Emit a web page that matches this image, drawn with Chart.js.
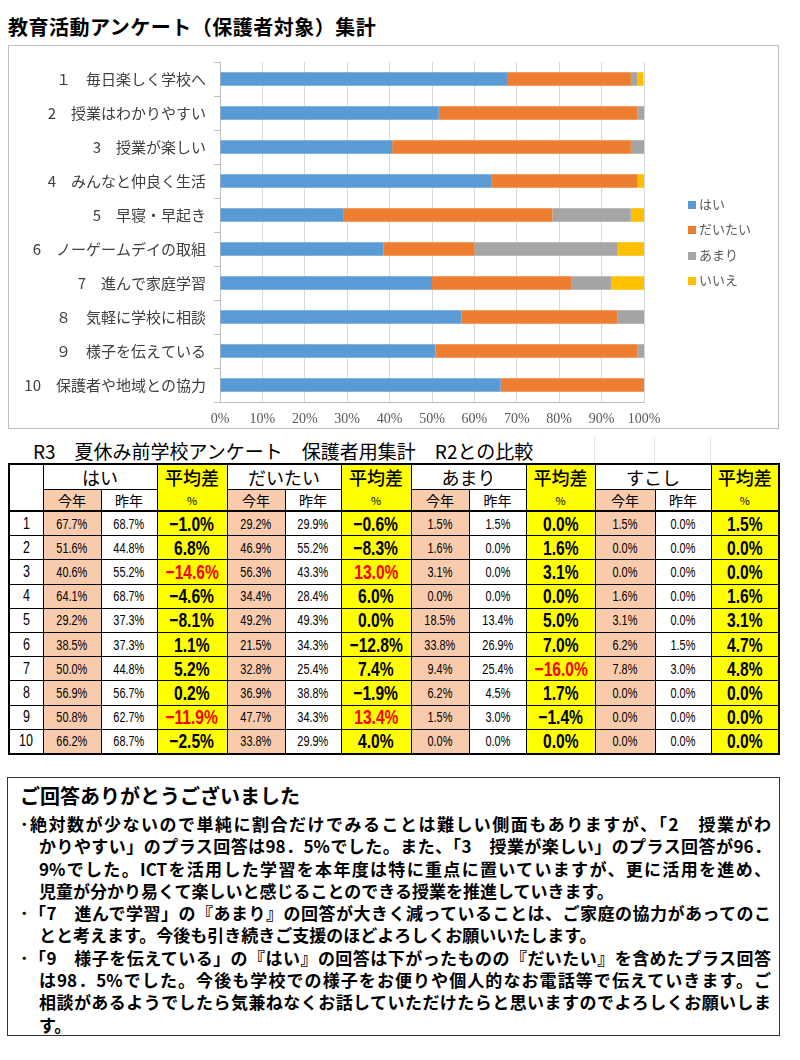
<!DOCTYPE html>
<html>
<head>
<meta charset="utf-8">
<script src="https://cdn.jsdelivr.net/npm/chart.js@4"></script>
<style>
body { margin: 0; width: 800px; height: 1060px; position: relative; background: #fff; font-family: "Noto Sans CJK JP", sans-serif; color: #000; overflow: hidden; }
#title { position: absolute; left: 8px; top: 12px; font-size: 20px; font-weight: bold; letter-spacing: 0.5px; line-height: 30px; white-space: nowrap; }
#chartBox { position: absolute; left: 8px; top: 45px; width: 771px; height: 384px; border: 1px solid #bfbfbf; box-sizing: border-box; }
#chart { position: absolute; left: 8px; top: 45px; }
#legend { position: absolute; left: 688px; top: 191px; font-size: 13px; color: #595959; }
#legend div { height: 25.3px; line-height: 25px; white-space: nowrap; }
#legend span { display: inline-block; width: 8px; height: 8px; margin-right: 3px; vertical-align: 0px; }
#tblTitle { position: absolute; left: 33px; top: 438px; font-size: 19px; line-height: 26px; white-space: nowrap; }
.gl { position: absolute; top: 437px; width: 1px; height: 26px; background: #e4e4e4; }
#tbl { position: absolute; left: 8px; top: 463px; width: 770px; border-collapse: collapse; table-layout: fixed; border: 2px solid #000; }
#tbl td { border: 1px solid #000; padding: 0; text-align: center; white-space: nowrap; overflow: hidden; }
#tbl .h1 td { height: 24px; font-size: 18px; line-height: 22px; }
#tbl .h2 td { height: 20px; font-size: 14px; line-height: 18px; border-bottom: 2px solid #000; }
#tbl .h1 td.diff { border-bottom: none; font-weight: 500; }
#tbl .h2 td.diff { border-top: none; font-size: 11px; }
#tbl .row td { height: 23.2px; font-family: "Liberation Sans", sans-serif; font-size: 14px; line-height: 20px; }
#tbl .row td.diff { font-size: 20px; font-weight: bold; }
#tbl .row td.no { font-size: 16px; }
#tbl .n { display: inline-block; transform: scaleX(0.78); }
#tbl .diff .n { transform: scaleX(0.78); }
.cur { background: #f8cbad; }
.diff { background: #ffff00; }
.red { color: #ff0000; }
#note { position: absolute; left: 7px; top: 777px; width: 773px; height: 259px; border: 1.5px solid #333; box-sizing: border-box; font-weight: bold; }
#note h2 { position: absolute; left: 12px; top: 4px; margin: 0; font-size: 20px; line-height: 28px; white-space: nowrap; }
#note .lines { position: absolute; left: 12px; top: 35px; width: 751px; font-size: 17px; line-height: 22.3px; }
#note .ln { white-space: nowrap; }
#note .ind { padding-left: 19px; }
#note .j { text-align: justify; text-align-last: justify; white-space: normal; }
</style>
</head>
<body>
<div id="title">教育活動アンケート（保護者対象）集計</div>
<div id="chartBox"></div>
<canvas id="chart" width="770" height="383"></canvas>
<div id="legend"></div>

<div class="gl" style="left:594px"></div>
<div class="gl" style="left:654px"></div>
<div class="gl" style="left:710px"></div>
<div id="tblTitle">R3　夏休み前学校アンケート　保護者用集計　R2との比較</div>
<table id="tbl"></table>

<div id="note">
  <h2>ご回答ありがとうございました</h2>
  <div class="lines">
    <div class="ln j">･絶対数が少ないので単純に割合だけでみることは難しい側面もありますが、「2　授業がわ</div>
    <div class="ln j ind">かりやすい」のプラス回答は98．5%でした。また、「3　授業が楽しい」のプラス回答が96．</div>
    <div class="ln j ind">9%でした。ICTを活用した学習を本年度は特に重点に置いていますが、更に活用を進め、</div>
    <div class="ln ind">児童が分かり易くて楽しいと感じることのできる授業を推進していきます。</div>
    <div class="ln j">･「7　進んで学習」の『あまり』の回答が大きく減っていることは、ご家庭の協力があってのこ</div>
    <div class="ln ind">とと考えます。今後も引き続きご支援のほどよろしくお願いいたします。</div>
    <div class="ln j">･「9　様子を伝えている」の『はい』の回答は下がったものの『だいたい』を含めたプラス回答</div>
    <div class="ln j ind">は98．5%でした。今後も学校での様子をお便りや個人的なお電話等で伝えていきます。ご</div>
    <div class="ln j ind">相談があるようでしたら気兼ねなくお話していただけたらと思いますのでよろしくお願いしま</div>
    <div class="ln ind">す。</div>
  </div>
</div>

<script>
// survey items (chart rows, top to bottom)
const items = [
    '１　毎日楽しく学校へ',
    '2　授業はわかりやすい',
    '3　授業が楽しい',
    '4　みんなと仲良く生活',
    '5　早寝・早起き',
    '6　ノーゲームデイの取組',
    '7　進んで家庭学習',
    '８　気軽に学校に相談',
    '９　様子を伝えている',
    '10　保護者や地域との協力'
];
const seriesNames = ['はい', 'だいたい', 'あまり', 'いいえ'];
const colors = ['#5b9bd5', '#ed7d31', '#a5a5a5', '#ffc000'];
const xTicks = [0, 10, 20, 30, 40, 50, 60, 70, 80, 90, 100];

// this year / last year (%), per item
const yesThis = [67.7, 51.6, 40.6, 64.1, 29.2, 38.5, 50.0, 56.9, 50.8, 66.2];
const yesLast = [68.7, 44.8, 55.2, 68.7, 37.3, 37.3, 44.8, 56.7, 62.7, 68.7];
const yesDiff = [-1.0, 6.8, -14.6, -4.6, -8.1, 1.1, 5.2, 0.2, -11.9, -2.5];
const mostlyThis = [29.2, 46.9, 56.3, 34.4, 49.2, 21.5, 32.8, 36.9, 47.7, 33.8];
const mostlyLast = [29.9, 55.2, 43.3, 28.4, 49.3, 34.3, 25.4, 38.8, 34.3, 29.9];
const mostlyDiff = [-0.6, -8.3, 13.0, 6.0, 0.0, -12.8, 7.4, -1.9, 13.4, 4.0];
const rarelyThis = [1.5, 1.6, 3.1, 0.0, 18.5, 33.8, 9.4, 6.2, 1.5, 0.0];
const rarelyLast = [1.5, 0.0, 0.0, 0.0, 13.4, 26.9, 25.4, 4.5, 3.0, 0.0];
const rarelyDiff = [0.0, 1.6, 3.1, 0.0, 5.0, 7.0, -16.0, 1.7, -1.4, 0.0];
const littleThis = [1.5, 0.0, 0.0, 1.6, 3.1, 6.2, 7.8, 0.0, 0.0, 0.0];
const littleLast = [0.0, 0.0, 0.0, 0.0, 0.0, 1.5, 3.0, 0.0, 0.0, 0.0];
const littleDiff = [1.5, 0.0, 0.0, 1.6, 3.1, 4.7, 4.8, 0.0, 0.0, 0.0];

// table groups and the diff cells printed in red ([row, group])
const groupNames = ['はい', 'だいたい', 'あまり', 'すこし'];
const redCells = [[2, 0], [8, 0], [2, 1], [8, 1], [6, 2]];

const groups = [
    [yesThis, yesLast, yesDiff],
    [mostlyThis, mostlyLast, mostlyDiff],
    [rarelyThis, rarelyLast, rarelyDiff],
    [littleThis, littleLast, littleDiff]
];
const chartSeries = [yesThis, mostlyThis, rarelyThis, littleThis];

function pct(v) {
    return '<span class="n">' + (v < 0 ? '−' : '') + Math.abs(v).toFixed(1) + '%</span>';
}

new Chart(document.getElementById('chart'), {
    type: 'bar',
    data: {
        labels: items,
        datasets: seriesNames.map((name, i) => ({
            label: name,
            data: chartSeries[i],
            backgroundColor: colors[i],
            barPercentage: 0.4,
            categoryPercentage: 1
        }))
    },
    options: {
        indexAxis: 'y',
        responsive: false,
        animation: false,
        layout: { padding: { top: 17, right: 134, left: 0, bottom: 0 } },
        plugins: { legend: { display: false }, tooltip: { enabled: false } },
        scales: {
            x: {
                stacked: true,
                min: 0,
                max: 100,
                afterBuildTicks: s => { s.ticks = xTicks.map(v => ({ value: v })); },
                afterFit: s => { s.height = 26; },
                ticks: {
                    callback: v => v + '%',
                    font: { family: 'Liberation Serif', size: 14 },
                    color: '#595959',
                    padding: 9
                },
                grid: { color: '#d9d9d9', drawTicks: false },
                border: { color: '#bfbfbf' }
            },
            y: {
                stacked: true,
                afterFit: s => { s.width = 212; },
                ticks: {
                    font: { family: 'Noto Sans CJK JP', size: 15 },
                    color: '#404040',
                    padding: 8
                },
                grid: { offset: true, drawOnChartArea: false, tickLength: 6, color: '#bfbfbf' },
                border: { color: '#bfbfbf' }
            }
        }
    }
});

// legend
const legend = document.getElementById('legend');
seriesNames.forEach((name, i) => {
    const d = document.createElement('div');
    d.innerHTML = '<span style="background:' + colors[i] + '"></span>' + name;
    legend.appendChild(d);
});

// table
const tbl = document.getElementById('tbl');
let html = '<colgroup>';
[34, 58, 56, 70, 58, 56, 70, 58, 57, 69, 60, 56, 68].forEach(w => { html += '<col style="width:' + w + 'px">'; });
html += '</colgroup>';
html += '<tr class="h1"><td rowspan="2" style="border-bottom:2px solid #000"></td>';
groupNames.forEach(g => { html += '<td colspan="2">' + g + '</td><td class="diff">平均差</td>'; });
html += '</tr><tr class="h2">';
groupNames.forEach(() => { html += '<td class="cur">今年</td><td>昨年</td><td class="diff">%</td>'; });
html += '</tr>';
items.forEach((_, r) => {
    html += '<tr class="row"><td class="no"><span class="n">' + (r + 1) + '</span></td>';
    groups.forEach((g, gi) => {
        const red = redCells.some(c => c[0] === r && c[1] === gi);
        html += '<td class="cur">' + pct(g[0][r]) + '</td><td>' + pct(g[1][r]) + '</td>';
        html += '<td class="diff' + (red ? ' red' : '') + '">' + pct(g[2][r]) + '</td>';
    });
    html += '</tr>';
});
tbl.innerHTML = html;
</script>
</body>
</html>
